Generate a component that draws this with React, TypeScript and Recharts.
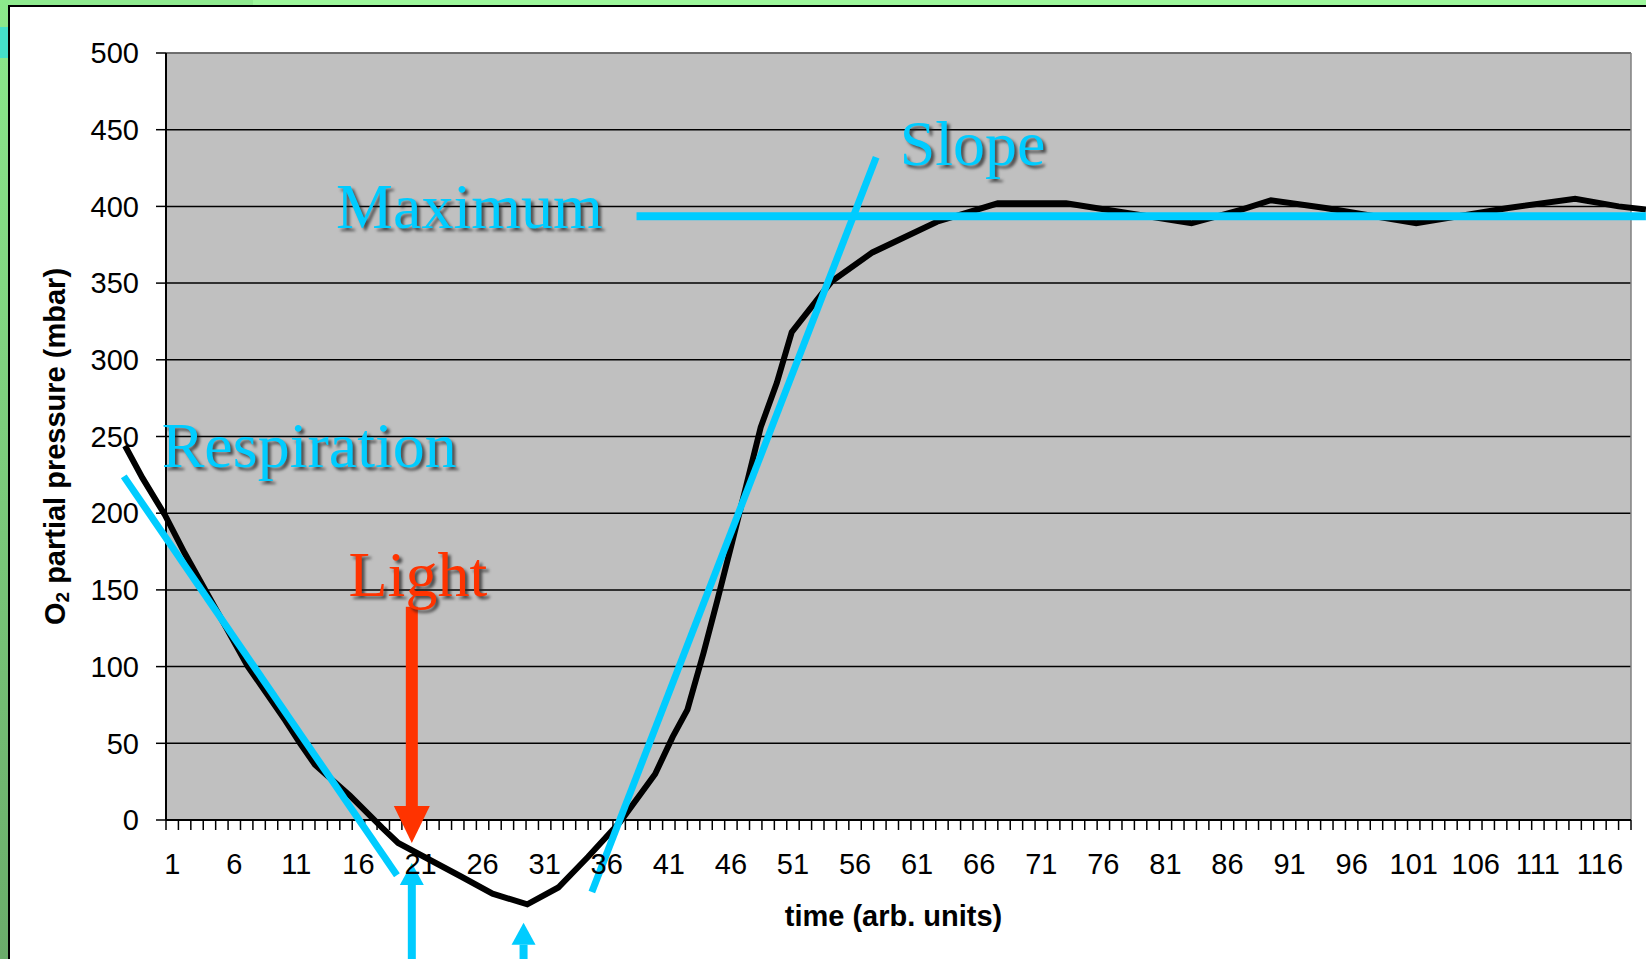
import React from 'react';
import {
  LineChart,
  Line,
  XAxis,
  YAxis,
  CartesianGrid,
  ReferenceLine,
  ReferenceDot,
} from 'recharts';

// O2 trace as drawn on the slide (time in arb. units, mbar).
// The trace runs a little past both plot edges and below zero.
const TIME = [
  -2.8, -1.4, 0.4, 2.0, 7.1, 10.1, 11.3, 12.5, 15.3, 17.9, 19.2, 24.3, 26.8, 29.6,
  32.1, 34.5, 37.1, 39.9, 41.3, 42.5, 43.8, 44.9, 46.1, 47.3, 48.4, 49.7, 50.9,
  54.1, 57.4, 62.6, 67.5, 70.3, 73.0, 75.4, 83.1, 87.2, 89.5, 93.9, 101.2, 108.6,
  114.0, 117.5, 119.7,
];
const O2 = [
  244, 223, 199, 174, 100, 65, 50, 36, 16, -5, -15, -37, -48, -55,
  -44, -24, -1, 30, 54, 72, 109, 143, 181, 220, 256, 285, 318,
  351, 370, 390, 402, 402, 402, 399, 389, 398, 404, 399, 389, 399,
  405, 400, 398,
];

const X_LABELS = [1, 6, 11, 16, 21, 26, 31, 36, 41, 46, 51, 56, 61, 66, 71, 76, 81, 86, 91, 96, 101, 106, 111, 116];
const Y_TICKS = [0, 50, 100, 150, 200, 250, 300, 350, 400, 450, 500];
const CATEGORY_COUNT = 118;

// fitted lines drawn over the chart, [time, mbar] end points
const FIT_LINES = [
  { name: 'respiration', from: [-2.9, 224], to: [19.1, -36], width: 7 },
  { name: 'slope', from: [34.8, -47], to: [57.7, 432], width: 7 },
  { name: 'maximum', from: [38.4, 393.5], to: [119.7, 393.5], width: 8 },
];
// "light on" arrow and the two cyan markers under the axis
const LIGHT_ARROW = { time: 20.3, top: 139, tip: -15 };
const MARKERS = [
  { time: 20.3, tip: -28 },
  { time: 29.3, tip: -67 },
];
const MARKER_BASE = -92;

const CYAN = '#00CCFF';
const RED = '#FF3300';

const NOTES = [
  { text: 'Respiration', time: 0.15, value: 230, color: CYAN },
  { text: 'Light', time: 15.2, value: 146, color: RED },
  { text: 'Maximum', time: 14.2, value: 386, color: CYAN },
  { text: 'Slope', time: 59.6, value: 427, color: CYAN },
];

const SANS = '"Liberation Sans", Arial, sans-serif';
const SERIF = '"Liberation Serif", "Times New Roman", serif';

const data = TIME.map((t, i) => ({ t, o2: O2[i] }));
const boundaries = Array.from({ length: CATEGORY_COUNT + 1 }, (_, i) => i + 0.5);

const arrowShape = (shaft: number, headW: number, headL: number, color: string) => (p: any) => {
  const { x1, y1, x2, y2 } = p;
  const dir = y2 > y1 ? 1 : -1;
  const base = y2 - dir * headL;
  return (
    <g>
      <rect x={x2 - shaft / 2} y={Math.min(y1, base)} width={shaft} height={Math.abs(base - y1)} fill={color} />
      <polygon points={`${x2 - headW / 2},${base} ${x2 + headW / 2},${base} ${x2},${y2}`} fill={color} />
    </g>
  );
};

const noteShape = (text: string, color: string) => (p: any) => (
  <text
    x={p.cx}
    y={p.cy}
    fill={color}
    fontFamily={SERIF}
    fontSize={64}
    style={{ filter: 'drop-shadow(3px 3px 1.5px rgba(30,30,30,0.7))' }}
  >
    {text}
  </text>
);

const yTitle = ({ viewBox }: any) => {
  const cx = viewBox.x + 35;
  const cy = viewBox.y + viewBox.height / 2 + 10;
  return (
    <text
      x={cx}
      y={cy}
      transform={`rotate(-90, ${cx}, ${cy})`}
      textAnchor="middle"
      dominantBaseline="central"
      fontFamily={SANS}
      fontWeight="bold"
      fontSize={29}
      fill="#000"
    >
      O<tspan fontSize={19} dy={7}>2</tspan>
      <tspan dy={-7}> partial pressure (mbar)</tspan>
    </text>
  );
};

const xTitle = ({ viewBox }: any) => (
  <text
    x={viewBox.x + viewBox.width / 2 - 5}
    y={viewBox.y + viewBox.height - 5}
    textAnchor="middle"
    fontFamily={SANS}
    fontWeight="bold"
    fontSize={29}
    fill="#000"
  >
    time (arb. units)
  </text>
);

const tickStyle = { fontSize: 29, fill: '#000', fontFamily: SANS };
const noLabel = () => <g />;

export default function App() {
  return (
    <div style={{ position: 'absolute', left: 0, top: 0, width: 1646, height: 959, background: '#fff', overflow: 'hidden' }}>
      <style>{'.o2-curve, .o2-curve * { clip-path: none !important; }'}</style>
      {/* slide frame */}
      <div style={{ position: 'absolute', left: 0, top: 0, width: 253, height: 6, background: '#8FEA8F' }} />
      <div style={{ position: 'absolute', left: 253, top: 0, right: 0, height: 6, background: '#9DF79B' }} />
      <div style={{ position: 'absolute', left: 0, top: 0, width: 9, height: 959, background: 'linear-gradient(#8CE98C, #6AAC6A)' }} />
      <div style={{ position: 'absolute', left: 0, top: 27, width: 9, height: 31, background: '#45DFC9' }} />
      <div style={{ position: 'absolute', left: 8, top: 5, right: 0, bottom: 0, borderTop: '2px solid #000', borderLeft: '2px solid #000' }} />

      <div style={{ position: 'absolute', left: 0, top: 0 }}>
        <LineChart width={1646} height={959} data={data} margin={{ top: 53, right: 15, bottom: 28, left: 20 }}>
          <CartesianGrid xAxisId="main" vertical={false} fill="#C0C0C0" stroke="#000" strokeWidth={1.5} />
          {/* tick marks between categories, sits right on the plot edge */}
          <XAxis
            xAxisId="boundary"
            type="number"
            dataKey="t"
            domain={[0.5, CATEGORY_COUNT + 0.5]}
            allowDataOverflow
            ticks={boundaries}
            interval={0}
            height={1}
            tick={noLabel}
            tickSize={10}
            tickLine={{ stroke: '#000', strokeWidth: 1.5 }}
            axisLine={{ stroke: '#000', strokeWidth: 2 }}
          />
          <XAxis
            xAxisId="main"
            type="number"
            dataKey="t"
            domain={[0.5, CATEGORY_COUNT + 0.5]}
            allowDataOverflow
            ticks={X_LABELS}
            interval={0}
            height={110}
            tickLine={false}
            axisLine={false}
            tickSize={10}
            tickMargin={22}
            tick={tickStyle}
            label={xTitle}
          />
          <YAxis
            type="number"
            domain={[0, 500]}
            allowDataOverflow
            ticks={Y_TICKS}
            interval={0}
            width={146}
            tickSize={10}
            tickMargin={17}
            tick={tickStyle}
            tickLine={{ stroke: '#000', strokeWidth: 1.5 }}
            axisLine={{ stroke: '#000', strokeWidth: 2 }}
            label={yTitle}
          />
          <ReferenceLine xAxisId="main" y={500} stroke="#808080" strokeWidth={1.5} />
          <ReferenceLine xAxisId="main" x={CATEGORY_COUNT + 0.5} stroke="#808080" strokeWidth={1.5} />
          <Line
            xAxisId="main"
            className="o2-curve"
            type="linear"
            dataKey="o2"
            stroke="#000"
            strokeWidth={6}
            dot={false}
            activeDot={false}
            isAnimationActive={false}
            zIndex={600}
          />
          {FIT_LINES.map((l) => (
            <ReferenceLine
              key={l.name}
              xAxisId="main"
              ifOverflow="visible"
              segment={[
                { x: l.from[0], y: l.from[1] },
                { x: l.to[0], y: l.to[1] },
              ]}
              stroke={CYAN}
              strokeWidth={l.width}
              zIndex={700}
            />
          ))}
          <ReferenceLine
            xAxisId="main"
            ifOverflow="visible"
            segment={[
              { x: LIGHT_ARROW.time, y: LIGHT_ARROW.top },
              { x: LIGHT_ARROW.time, y: LIGHT_ARROW.tip },
            ]}
            shape={arrowShape(12, 36, 37, RED)}
            zIndex={700}
          />
          {MARKERS.map((m) => (
            <ReferenceLine
              key={m.time}
              xAxisId="main"
              ifOverflow="visible"
              segment={[
                { x: m.time, y: MARKER_BASE },
                { x: m.time, y: m.tip },
              ]}
              shape={arrowShape(8, 24, 22, CYAN)}
              zIndex={700}
            />
          ))}
          {NOTES.map((n) => (
            <ReferenceDot
              key={n.text}
              xAxisId="main"
              x={n.time}
              y={n.value}
              r={0}
              ifOverflow="visible"
              shape={noteShape(n.text, n.color)}
              zIndex={800}
            />
          ))}
        </LineChart>
      </div>
    </div>
  );
}
